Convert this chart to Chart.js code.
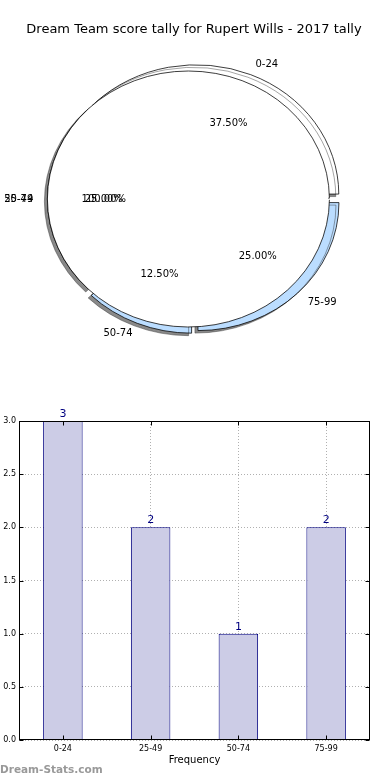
<!DOCTYPE html>
<html>
<head>
<meta charset="utf-8">
<script src="https://cdn.jsdelivr.net/npm/chart.js@4.4.0/dist/chart.umd.min.js"></script>
<style>
  body { margin: 0; background: #fff; }
  #wrap { position: relative; width: 390px; height: 780px; }
  canvas { position: absolute; left: 0; }
</style>
</head>
<body>
<div id="wrap">
  <canvas id="pieChart" width="390" height="350" style="top:0"></canvas>
  <canvas id="pieTop" width="390" height="350" style="top:0"></canvas>
  <canvas id="barChart" width="390" height="380" style="top:400px"></canvas>
</div>
<script>
// DATA
const chartTitle = 'Dream Team score tally for Rupert Wills - 2017 tally';
const categories = ['0-24', '25-49', '50-74', '75-99'];
const counts = [3, 2, 1, 2];
// the stray full-circle slice drawn over the pie in the original
const overlayLabels = ['50-74'];
const overlayCounts = [8];
const yTicks = [0, 0.5, 1, 1.5, 2, 2.5, 3];
const xTitle = 'Frequency';
const watermark = 'Dream-Stats.com';

const sliceColors = ['#ffffff', '#ffffff', '#bbddff', '#bbddff'];
const FONT = '"DejaVu Sans", sans-serif';

// PIE GEOMETRY (matplotlib squashes the pie into an ellipse)
const RADIUS = 141;
const SQUASH = 128 / 141;
const EXPLODE = 5.6;

const squash = {
  id: 'squash',
  beforeDatasetsDraw(chart, args, opts) {
    const arc = chart.getDatasetMeta(0).data[0];
    const ctx = chart.ctx;
    ctx.save();
    ctx.translate(arc.x, arc.y);
    ctx.scale(1, SQUASH);
    ctx.translate(-arc.x, -arc.y);
    if (opts.shadow) {
      ctx.shadowColor = 'rgba(40, 40, 40, 0.55)';
      ctx.shadowOffsetX = -3;
      ctx.shadowOffsetY = 2.5;
    }
  },
  afterDatasetsDraw(chart) {
    chart.ctx.restore();
  }
};

// labels of both pies go on the top canvas
const pieLabels = {
  id: 'pieLabels',
  afterDraw(chart) {
    const ctx = chart.ctx;
    ctx.save();
    ctx.fillStyle = '#000';
    ctx.textBaseline = 'middle';
    ctx.textAlign = 'center';
    ctx.font = '13px ' + FONT;
    ctx.fillText(chartTitle, 194, 30);
    ctx.font = '10px ' + FONT;
    [pieChart, chart].forEach(c => {
      const meta = c.getDatasetMeta(0);
      meta.data.forEach((arc, i) => {
        const mid = (arc.startAngle + arc.endAngle) / 2;
        const cos = Math.cos(mid), sin = Math.sin(mid);
        const cx = arc.x + cos * EXPLODE;
        const cy = arc.y + sin * EXPLODE * SQUASH;
        const value = c.data.datasets[0].data[i];
        ctx.textAlign = cos > 0 ? 'left' : 'right';
        ctx.fillText(c.data.labels[i], cx + cos * RADIUS * 1.1, cy + sin * RADIUS * 1.1 * SQUASH);
        ctx.textAlign = 'center';
        const pct = (value / meta.total * 100).toFixed(2) + '%';
        ctx.fillText(pct, cx + cos * RADIUS * 0.6, cy + sin * RADIUS * 0.6 * SQUASH);
      });
    });
    ctx.restore();
  }
};

function pieOptions(radius, shadow) {
  return {
    responsive: false,
    animation: false,
    events: [],
    rotation: 90,
    radius: radius,
    layout: { padding: { top: 48, right: 2 } },
    plugins: {
      legend: { display: false },
      tooltip: { enabled: false },
      squash: { shadow: shadow }
    }
  };
}

// matplotlib goes counter-clockwise from east, Chart.js clockwise, so reverse
const pieChart = new Chart(document.getElementById('pieChart'), {
  type: 'pie',
  data: {
    labels: categories.slice().reverse(),
    datasets: [{
      data: counts.slice().reverse(),
      backgroundColor: sliceColors.slice().reverse(),
      borderColor: '#000',
      borderWidth: 0.8,
      offset: EXPLODE * 4,
      clip: false
    }]
  },
  options: pieOptions(RADIUS, true),
  plugins: [squash]
});

// a full slice has a radius line back to the centre; dash it away
const pieTop = new Chart(document.getElementById('pieTop'), {
  type: 'pie',
  data: {
    labels: overlayLabels,
    datasets: [{
      data: overlayCounts,
      backgroundColor: '#ffffff',
      borderColor: '#000',
      borderWidth: 0.8,
      borderDash: [2 * Math.PI * RADIUS - 1, 2 * RADIUS + 20],
      offset: EXPLODE * 4,
      clip: false
    }]
  },
  options: pieOptions(RADIUS - EXPLODE, false),
  plugins: [squash, pieLabels]
});

// BAR CHART
const barDecor = {
  id: 'barDecor',
  afterDraw(chart) {
    const { ctx, chartArea: a, scales: { x, y } } = chart;
    ctx.save();
    ctx.strokeStyle = '#000';
    ctx.lineWidth = 1;
    const l = Math.round(a.left) + 0.5, r = Math.round(a.right) - 0.5;
    const t = Math.round(a.top) + 0.5, b = Math.round(a.bottom) - 0.5;
    ctx.strokeRect(l, t, r - l, b - t);
    ctx.beginPath();
    x.ticks.forEach((tk, i) => {
      const px = Math.round(x.getPixelForTick(i)) + 0.5;
      ctx.moveTo(px, b); ctx.lineTo(px, b - 4);
      ctx.moveTo(px, t); ctx.lineTo(px, t + 4);
    });
    yTicks.forEach(v => {
      const py = Math.round(y.getPixelForValue(v)) + 0.5;
      ctx.moveTo(l, py); ctx.lineTo(l + 4, py);
      ctx.moveTo(r, py); ctx.lineTo(r - 4, py);
    });
    ctx.stroke();

    // value labels
    ctx.fillStyle = '#000080';
    ctx.font = '11px ' + FONT;
    ctx.textAlign = 'center';
    ctx.textBaseline = 'alphabetic';
    chart.getDatasetMeta(0).data.forEach((bar, i) => {
      ctx.fillText(String(counts[i]), bar.x, bar.y - 4);
    });

    ctx.fillStyle = '#999';
    ctx.font = 'bold 10.5px ' + FONT;
    ctx.textAlign = 'left';
    ctx.textBaseline = 'middle';
    ctx.fillText(watermark, 0, 370);
    ctx.restore();
  }
};

const barChart = new Chart(document.getElementById('barChart'), {
  type: 'bar',
  data: {
    labels: categories,
    datasets: [{
      data: counts,
      backgroundColor: '#ccccE6',
      borderColor: '#000080',
      borderWidth: 1,
      barPercentage: 0.45,
      categoryPercentage: 1
    }]
  },
  options: {
    responsive: false,
    animation: false,
    events: [],
    layout: { padding: { top: 21, right: 20, left: 0, bottom: 0 } },
    scales: {
      x: {
        z: 1,
        grid: { offset: false, color: '#b0b0b0', lineWidth: 1, drawTicks: false },
        border: { display: false, dash: [1, 2] },
        ticks: { color: '#000', font: { size: 8, family: FONT }, padding: 4 },
        title: {
          display: true, text: xTitle, color: '#000',
          font: { size: 10, family: FONT }, padding: { top: 0, bottom: 14 }
        },
        afterFit: s => { s.height = 40; }
      },
      y: {
        z: 1,
        min: 0,
        max: 3,
        afterBuildTicks: s => { s.ticks = yTicks.map(v => ({ value: v })); },
        grid: { color: '#b0b0b0', lineWidth: 1, drawTicks: false },
        border: { display: false, dash: [1, 2] },
        ticks: { color: '#000', font: { size: 8, family: FONT }, padding: 3, callback: v => v.toFixed(1) },
        afterFit: s => { s.width = 19; }
      }
    },
    plugins: { legend: { display: false }, tooltip: { enabled: false } }
  },
  plugins: [barDecor]
});
</script>
</body>
</html>
